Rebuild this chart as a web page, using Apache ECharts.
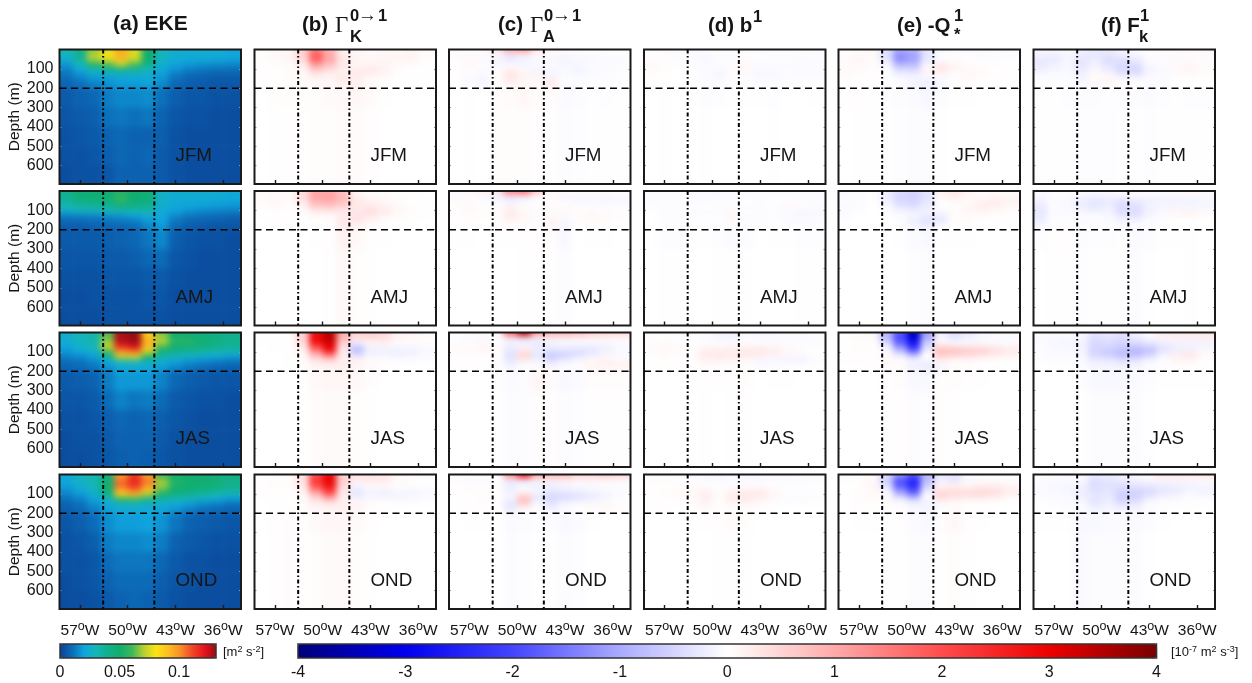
<!DOCTYPE html>
<html><head><meta charset="utf-8"><title>EKE budget sections</title>
<script src="https://cdn.jsdelivr.net/npm/echarts@6/dist/echarts.min.js"></script>
<style>
html,body{margin:0;padding:0;background:#fff;width:1252px;height:683px;overflow:hidden}
.layer{position:absolute;left:0;top:0;width:1252px;height:683px}
.heat{filter:blur(3px)}
</style></head><body>
<div id="host"></div><div id="over" class="layer"></div>
<script>
const seasons=['JFM','AMJ','JAS','OND'];
const lonTicks=[-57,-50,-43,-36];
const depthTicks=[100,200,300,400,500,600];
const refLons=[-53.6,-46.1];
const refDepth=200;
const lonEdges=[-61,-58,-56,-54,-52,-50,-48,-46,-44,-42,-40,-38,-36,-32.5];
const ekeDepthEdges=[-30,30,60,90,115,140,170,200,300,400,500,600,730];
const budgetDepthEdges=[-30,18,38,70,100,125,150,175,200,300,730];
const ekeTicks=[0,0.05,0.1];
const budgetTicks=[-4,-3,-2,-1,0,1,2,3,4];

// EKE, in 10^-3 m2 s-2
const ekeJFM=[[30,40,68,78,95,75,50,30,25,24,24,24,22],[25,38,72,80,92,76,50,28,23,22,22,22,20],[18,30,55,62,72,62,42,25,20,18,17,16,15],[14,22,32,38,42,38,30,22,17,14,12,11,11],[12,17,22,24,26,26,25,19,13,10,9,8,8],[10,13,17,18,20,20,22,17,11,8,7,6,6],[8,10,13,16,18,18,19,15,9,7,6,5,5],[6,8,9,13,15,15,16,11,7,5,5,4,4],[5,6,7,11,12,11,12,8,5,4,4,3,3],[4,5,6,8,9,8,8,7,4,3,3,3,3],[4,4,5,7,9,8,9,6,4,3,3,3,3],[3,4,4,5,8,8,8,6,4,3,3,3,3]];
const ekeAMJ=[[40,48,48,48,55,50,47,27,24,24,24,24,22],[38,45,46,47,58,48,45,26,23,23,23,22,21],[32,36,38,40,44,42,40,24,22,21,20,19,18],[25,27,28,30,32,33,32,22,20,17,15,14,13],[13,14,15,16,17,20,23,20,15,12,11,10,9],[9,9,10,11,12,13,18,20,12,9,8,7,6],[7,7,8,9,9,10,15,18,10,7,6,5,5],[6,6,6,7,8,9,12,15,7,5,4,4,3],[5,5,5,6,6,7,9,10,5,4,3,3,3],[4,4,4,5,5,5,6,6,4,3,3,3,3],[3,3,4,4,4,4,5,5,3,3,3,3,3],[3,3,3,4,4,4,4,4,3,3,3,3,3]];
const ekeJAS=[[25,30,33,62,128,133,88,66,50,48,45,43,40],[23,28,33,68,128,132,95,72,56,55,48,44,40],[20,26,30,72,115,122,90,60,48,47,44,40,38],[17,20,25,55,95,100,72,45,38,35,33,30,28],[13,15,19,35,70,72,50,33,28,25,22,20,18],[10,11,14,20,28,28,27,23,19,16,14,12,11],[8,9,11,16,22,22,21,18,14,11,9,8,7],[6,7,8,13,18,18,18,14,9,7,6,5,5],[5,5,6,10,14,12,13,10,6,5,4,4,3],[4,4,5,7,9,8,9,7,5,4,3,3,3],[3,4,4,6,8,8,8,6,4,3,3,3,3],[3,3,4,5,7,8,7,5,4,3,3,3,3]];
const ekeOND=[[22,28,32,45,100,115,100,62,52,50,48,46,42],[20,26,32,50,108,118,104,70,55,50,50,47,42],[17,22,28,50,100,108,92,64,50,48,46,43,38],[14,18,24,40,85,90,70,48,42,38,35,30,28],[11,14,20,28,55,58,42,36,32,28,25,22,18],[8,11,16,22,27,28,26,24,21,18,15,13,11],[7,9,13,19,22,23,22,20,17,13,10,9,8],[5,7,10,16,19,19,20,17,12,8,7,6,5],[4,5,7,13,15,15,16,13,8,6,5,4,4],[4,4,5,10,12,12,12,9,6,4,4,3,3],[3,4,5,8,10,10,10,7,5,4,3,3,3],[3,3,4,6,8,9,8,6,4,3,3,3,3]];

// Budget terms, in hundredths of 10^-7 m2 s-3
const gkJFM=[[3,8,10,50,150,90,20,10,5,8,10,12,5],[3,8,12,60,190,100,20,12,8,10,12,15,5],[3,6,10,45,175,105,30,12,10,12,12,12,3],[2,4,6,18,95,65,25,12,15,15,5,3,2],[2,2,3,10,50,28,15,25,30,15,3,1,1],[1,2,3,8,18,15,25,25,10,8,2,1,1],[1,2,3,6,10,12,25,15,6,3,1,1,0],[1,2,3,5,8,10,12,20,6,2,1,0,0],[0,3,4,4,4,6,8,10,6,1,0,0,0],[0,1,2,2,3,4,5,5,2,0,0,0,0]];
const gkAMJ=[[8,8,5,35,100,100,70,12,5,3,2,2,0],[5,10,6,45,110,115,85,20,10,6,4,3,0],[5,8,5,30,90,95,75,25,15,10,5,2,1],[3,5,3,10,50,55,45,25,30,20,10,4,1],[1,2,2,3,15,15,20,30,40,25,8,3,1],[1,1,1,2,3,5,25,35,20,8,3,2,1],[0,1,1,1,2,3,28,25,8,3,2,1,0],[0,0,0,1,1,2,22,12,3,2,1,0,0],[0,0,0,0,1,2,15,8,2,1,0,0,0],[0,0,0,0,0,1,8,4,1,0,0,0,0]];
const gkJAS=[[1,2,2,50,280,340,90,50,55,45,15,10,5],[1,2,2,60,300,350,90,40,50,40,15,10,5],[1,1,2,40,270,320,60,-20,10,15,5,3,2],[0,1,1,20,170,290,30,-80,-20,-15,-15,-15,-8],[0,0,1,10,90,180,20,-50,-15,-15,-20,-15,-8],[0,0,1,5,40,60,20,12,5,3,-5,-5,-3],[0,0,1,3,15,20,22,18,8,3,2,1,0],[0,0,1,2,12,15,18,12,5,1,1,0,0],[0,0,0,1,8,10,10,8,3,0,0,0,0],[0,0,0,1,5,6,6,4,1,0,0,0,0]];
const gkOND=[[2,3,4,30,200,290,50,30,30,25,8,5,3],[2,3,4,40,230,310,60,25,30,30,10,5,3],[2,3,3,30,210,280,50,-8,10,8,2,2,1],[1,2,2,15,130,230,30,-30,-12,-15,-8,-12,-8],[1,1,2,8,60,140,25,-25,-12,-15,-15,-12,-6],[0,1,1,5,25,50,15,8,3,2,-3,-4,-2],[0,1,2,3,14,18,20,15,5,2,1,0,0],[0,1,3,3,10,12,15,10,4,1,0,0,0],[0,2,4,2,7,9,10,6,2,0,0,0,0],[0,1,3,1,4,6,7,4,1,0,0,0,0]];
const gaJFM=[[3,5,8,30,90,110,30,10,5,5,5,4,4],[-8,5,-5,-10,-25,-8,5,3,-10,-8,-5,-5,-3],[0,10,-5,-12,-25,-15,-10,-10,-12,-10,-8,-5,-5],[3,8,-3,-6,5,-10,-5,-5,-10,-10,-5,-5,-3],[2,-3,-5,3,25,10,-15,-12,-8,-15,-8,-4,-3],[1,-5,-10,2,30,15,10,-10,-3,-5,-5,-3,-2],[1,-8,-12,3,25,10,8,25,-3,-5,-3,-2,-2],[1,-3,-8,3,10,10,8,20,-5,-5,-2,-2,-1],[0,1,0,3,5,10,5,3,-5,-3,-1,-2,-1],[0,1,0,3,3,4,2,1,-3,-2,-1,-1,-1]];
const gaAMJ=[[5,10,15,25,140,160,60,5,5,5,5,5,3],[-12,-5,-8,-25,-30,-15,5,-5,-12,-12,-12,-12,-8],[3,5,-3,-5,-15,-8,-3,3,-5,-10,-8,-10,-10],[3,8,2,5,15,5,3,5,5,3,-3,-3,-3],[3,5,3,5,25,10,-5,10,8,5,8,5,3],[2,3,3,5,20,12,-3,8,-5,5,8,5,3],[2,3,1,3,8,5,5,15,-10,3,5,3,2],[2,2,1,2,3,3,5,12,-12,2,3,2,1],[1,1,0,1,1,2,2,3,-8,0,1,1,0],[0,0,0,0,0,1,1,1,-4,0,0,0,0]];
const gaJAS=[[0,3,5,5,170,340,120,90,90,80,60,50,45],[-5,-10,-10,-3,-20,-15,-10,15,15,12,10,8,8],[3,3,8,5,-15,-20,-25,-15,-10,-8,-8,-8,-5],[5,5,12,3,-25,15,-20,-25,-25,-30,-30,-20,-10],[3,3,3,2,-35,55,-30,-65,-55,-45,-25,-10,-5],[2,2,2,2,-30,30,-20,-50,-30,-10,5,12,8],[1,2,1,1,-20,-5,-5,-15,-5,5,15,20,15],[1,1,1,1,-8,-3,5,15,-5,-5,8,10,8],[0,0,0,-1,-5,-3,12,5,-8,-5,3,3,3],[0,0,0,-1,-3,-3,3,2,-4,-2,1,1,1]];
const gaOND=[[2,4,5,5,130,280,110,80,80,50,50,60,50],[-3,-8,-10,2,-20,-15,-5,15,15,10,8,8,8],[2,3,3,3,-25,-15,-20,-20,-12,-8,-8,-5,-5],[2,3,4,3,-15,5,-8,-25,-20,-15,-10,-8,-5],[2,2,3,2,-10,60,-30,-50,-50,-40,-30,-15,-5],[1,2,3,2,-25,80,-15,-40,-20,-15,-8,-3,-2],[1,1,2,1,-30,30,-5,-25,-8,2,10,12,5],[1,1,1,1,-20,-3,-3,-10,-5,2,4,5,3],[0,1,1,0,-5,-3,-2,-2,-8,-5,-1,0,0],[0,0,0,0,-3,-2,-1,-1,-4,-2,0,0,0]];
const bJFM=[[-3,-3,-3,-5,-3,-3,-3,-3,-3,-3,-3,-2,-2],[2,-4,-6,-6,-8,-3,-4,-3,-3,-3,-3,-3,-4],[5,3,-3,-4,-10,-3,-3,5,3,-3,-3,-5,-5],[6,4,-2,2,-5,-5,5,8,-5,-5,-5,-6,-5],[5,3,0,2,-6,-10,3,8,-8,-8,-3,-5,-5],[3,2,0,2,-5,-12,3,-5,-10,-8,-3,-5,-5],[2,1,0,1,-3,-5,2,-3,-5,-5,-2,-2,-3],[1,1,0,1,-3,-4,-2,-2,-2,-4,-1,-1,-2],[0,-1,0,1,-3,-2,-1,-1,-1,-2,0,0,-1],[0,-1,0,0,-1,0,0,0,0,-1,0,0,0]];
const bAMJ=[[-4,-4,-4,-5,-6,-8,-6,-3,-3,-3,-3,-3,-3],[-3,-4,-4,-5,-5,-6,-5,-3,-3,-3,-3,-3,-3],[-3,-3,-3,-3,-4,-4,-3,-2,-3,-2,-2,-3,-4],[-2,-3,-3,-2,-2,-3,-3,-3,-2,3,10,5,-3],[0,-3,-3,-3,-3,-3,8,-2,-5,-3,-5,-12,-12],[0,-3,-4,-3,-2,-2,12,-3,-4,-2,-8,-8,-6],[0,-4,-4,-2,-2,-2,3,-3,-3,-2,-3,-3,-3],[0,-4,-3,-2,-2,-3,-3,-3,-3,-2,-2,-2,-2],[0,-3,-3,-1,-1,-2,-5,-3,0,-1,-1,-2,-2],[0,-1,-1,0,0,-1,-1,-1,0,0,0,-1,-1]];
const bJAS=[[-2,-2,-3,-4,-4,-12,-15,-6,-8,-8,-6,-5,-4],[-2,-2,-3,-4,-5,-12,-12,-5,-8,-8,-6,-5,-4],[3,5,3,2,-3,-4,-5,3,-3,-5,-4,-3,-3],[5,8,5,3,15,15,20,25,25,20,10,5,2],[3,6,3,2,25,30,25,30,25,15,8,3,1],[2,3,2,2,15,20,15,10,-8,-12,-15,-18,-5],[1,2,1,1,8,5,3,3,-8,-5,-5,-4,-2],[1,1,0,1,3,2,2,3,-3,-2,-1,-1,-1],[0,0,0,0,2,1,2,3,0,-1,-1,0,0],[0,0,0,0,1,0,1,1,0,0,0,0,0]];
const bOND=[[-3,-3,-4,-5,-8,-8,-5,-7,-7,-5,-5,-4,-4],[-2,-2,-3,-4,-7,-8,-6,-8,-8,-5,-5,-5,-4],[2,2,2,3,2,-2,-2,-2,-2,-2,-2,-2,-2],[2,3,6,8,15,5,15,20,22,10,3,2,2],[2,3,5,5,20,5,25,30,25,12,-3,-5,3],[2,2,2,3,18,3,18,20,10,3,-3,-3,3],[1,1,1,2,10,3,5,5,3,2,0,0,0],[1,1,0,1,3,2,3,3,2,0,0,0,0],[0,0,0,1,1,2,5,3,0,0,0,0,0],[0,0,0,0,0,1,1,1,0,0,0,0,0]];
const qJFM=[[3,6,8,-35,-100,-90,-30,-8,-3,-5,-6,-6,-4],[4,8,6,-40,-130,-110,-30,-5,-3,-5,-6,-4,-3],[6,10,5,-30,-125,-105,-30,-3,3,2,-3,-3,-2],[8,8,4,-5,-70,-70,5,30,15,5,3,2,1],[6,5,3,-2,-30,-35,15,25,8,8,5,3,2],[5,3,2,1,-12,-12,-8,-5,3,8,5,2,2],[2,2,1,0,-5,-12,-15,-8,3,5,2,1,1],[1,2,1,0,-4,-15,-20,-12,2,3,1,0,0],[1,2,1,-2,-3,-5,-10,-3,1,1,0,0,0],[0,1,1,-1,-2,-3,-3,-1,0,0,0,0,0]];
const qAMJ=[[-5,-3,0,-15,-40,-50,-30,15,25,12,5,5,5],[-3,-2,2,-25,-50,-55,-35,8,25,12,5,8,8],[-4,-3,1,-15,-45,-50,-30,3,5,5,15,22,15],[-6,-3,0,-5,-25,-35,-20,3,3,12,20,15,8],[-5,-2,0,2,-8,-10,-15,-8,5,8,8,5,3],[-3,0,0,1,-3,-15,-30,-30,3,5,3,2,1],[-1,0,0,0,-2,-20,-35,-20,3,3,1,1,1],[-1,0,0,0,-2,-10,-15,-5,2,2,1,0,0],[0,0,0,0,-1,-5,-8,-1,1,1,0,0,0],[0,0,0,0,0,-2,-3,0,0,0,0,0,0]];
const qJAS=[[3,5,8,-80,-180,-330,-110,-15,-35,-25,-10,-5,-5],[2,5,6,-90,-200,-320,-100,-10,-35,-20,-12,-8,-8],[1,3,3,-40,-170,-270,-60,10,-5,-5,-5,-5,-3],[2,3,2,-8,-100,-200,-30,70,65,55,50,35,25],[2,2,2,5,-30,-100,0,70,65,55,45,30,20],[1,2,2,8,5,-12,-5,25,10,8,4,3,2],[1,1,1,5,5,-18,-25,-5,5,3,2,1,1],[0,0,1,3,4,-15,-22,-15,5,3,1,1,0],[0,0,0,2,3,-8,-8,3,3,2,1,0,0],[0,0,0,1,2,-3,-2,3,1,0,0,0,0]];
const qOND=[[-3,2,5,-40,-120,-180,-80,-20,-30,-5,-3,-2,-2],[-3,3,8,-60,-190,-250,-90,-25,-35,-8,-3,-3,-3],[0,3,10,-40,-180,-240,-60,10,15,10,15,15,10],[0,3,8,-10,-120,-190,-25,40,38,38,45,40,25],[0,3,6,5,-50,-110,0,50,40,35,35,25,10],[0,3,4,8,-8,-25,-15,15,8,3,3,2,1],[0,2,2,3,3,-12,-15,-5,3,2,1,1,0],[0,1,1,2,2,-8,-12,-3,6,2,1,0,0],[0,1,1,1,2,-5,-8,4,10,2,1,0,0],[0,0,0,1,1,-3,-3,2,3,1,0,0,0]];
const fJFM=[[-8,-10,-8,-15,-25,-25,-12,-5,3,5,5,5,8],[-15,-20,-12,-25,-30,-30,-20,-10,3,5,8,8,8],[-25,-25,-12,-30,-20,-40,-35,-25,-5,-3,-3,-3,-3],[-25,-15,-8,-30,-15,-30,-45,-40,-10,-5,8,12,5],[-15,-10,-8,-20,10,-20,-45,-50,-15,-8,8,12,5],[-5,-5,-5,-15,5,5,-15,-20,-5,-5,3,3,3],[-2,-3,-3,-10,10,15,5,3,-5,-5,0,0,0],[-1,-2,-2,-5,-5,5,3,3,-5,-3,0,0,0],[-1,-1,-2,-3,-3,-2,-2,-3,-5,-2,-1,-2,-2],[-1,-1,-1,-2,-2,-2,-1,-1,-2,-1,-1,-1,-1]];
const fAMJ=[[-5,3,5,3,-5,-5,5,5,-3,-3,5,8,8],[-10,-5,-5,-15,-15,-15,-10,-5,-10,-10,-8,-5,-5],[-15,-5,-8,-20,-30,-25,-35,-28,-18,-15,-15,-15,-12],[-25,-5,-8,-20,-28,-18,-40,-35,-15,-10,-10,-10,-10],[-30,-5,-5,-10,-10,-12,-42,-45,-15,-8,12,18,5],[-25,-3,-3,-5,-5,-8,-15,-25,-8,-2,3,3,2],[-15,-2,-3,-5,-3,-5,-12,-10,-3,-2,1,1,0],[-8,-2,-2,-3,-3,-3,-5,-5,-3,0,0,0,0],[-2,2,2,-3,-2,-2,-1,-5,-3,-1,-1,-1,0],[0,2,1,-2,-1,-1,-1,-3,-1,0,0,1,0]];
const fJAS=[[-3,-5,-5,-8,-30,-25,-35,-15,5,25,25,25,30],[-5,-8,-10,-10,-40,-35,-40,-25,-5,10,15,15,15],[-5,-8,-10,-15,-45,-40,-50,-40,-30,-20,-15,-15,-15],[-3,-8,-8,-15,-50,-55,-65,-80,-70,-35,-20,-15,-8],[-2,-5,-5,-10,-50,-65,-85,-85,-60,-15,20,30,8],[-2,-3,-3,-10,-25,-30,-40,-35,-15,-3,15,15,3],[-1,-1,-2,-5,-15,-15,-20,-15,-5,-2,3,3,1],[0,-1,-1,-3,-10,-12,-12,-10,-3,-1,1,1,1],[0,0,0,-2,-8,-8,-8,-5,-2,-1,1,1,1],[0,0,0,-1,-4,-4,-4,-3,-1,0,0,0,0]];
const fOND=[[-2,-3,-3,-5,-25,-20,-15,-5,10,25,25,20,25],[-3,-5,-5,-8,-35,-30,-20,-15,5,10,10,8,8],[-5,-8,-10,-15,-40,-35,-35,-30,-25,-20,-18,-15,-10],[-5,-8,-10,-20,-35,-30,-50,-50,-45,-30,-25,-12,-15],[-3,-5,-8,-20,-25,-30,-55,-55,-30,-15,-10,-5,-8],[-2,-3,-5,-10,-35,-20,-50,-35,-8,-3,5,3,2],[-1,-2,-3,-5,-20,-15,-25,-20,-5,-2,-2,2,0],[-1,-1,-2,-4,-12,-10,-10,-10,-4,-2,0,0,0],[-1,-1,-1,-8,-8,-5,-5,-5,-3,-1,0,0,0],[0,0,0,-7,-4,-3,-3,-3,-1,0,0,0,0]];

const panels=[[ekeJFM,ekeAMJ,ekeJAS,ekeOND],[gkJFM,gkAMJ,gkJAS,gkOND],[gaJFM,gaAMJ,gaJAS,gaOND],[bJFM,bAMJ,bJAS,bOND],[qJFM,qAMJ,qJAS,qOND],[fJFM,fAMJ,fJAS,fOND]];

const ekeColors=['#0b4196','#0c6bb8','#0fa5de','#14b6b8','#12b08c','#10ae6c','#3db85c','#b8d030','#fce414','#fcc020','#f89028','#f04828','#e8141e','#9a0c14'];
const budgetColors=['#00007a','#0000ee','#4444ff','#aaaaff','#ffffff','#ffaaaa','#ff4c4c','#ee0000','#7a0000'];

const colLeft=[59.5,254.5,449,644,838.5,1033.5], rowTop=[49.5,191,332.5,474.5], W=181.5, H=134.5;
const LON0=-60, LON1=-33.4, D1=695;
const FONT='"Liberation Sans",Helvetica,Arial,sans-serif', INK='#151515';

function eachPanel(fn){let k=0;colLeft.forEach((x,c)=>rowTop.forEach((y,r)=>fn(x,y,c,r,k++)));}

// heat layers, one per season row, so that no row's colour reaches the next row
const host=document.getElementById('host');
rowTop.forEach((y,r)=>{
  const el=document.createElement('div');
  el.className='layer heat';
  el.style.clipPath="path('"+colLeft.map(x=>`M${x} ${y}h${W}v${H}h${-W}z`).join(' ')+"')";
  host.appendChild(el);
  const hGrid=[],hX=[],hY=[],hSeries=[];
  colLeft.forEach((x,c)=>{
    hGrid.push({left:x,top:y,width:W,height:H});
    hX.push({type:'value',gridIndex:c,min:LON0,max:LON1,show:false});
    hY.push({type:'value',gridIndex:c,min:0,max:D1,inverse:true,show:false});
    const edges=c===0?ekeDepthEdges:budgetDepthEdges, data=[];
    panels[c][r].forEach((row,i)=>row.forEach((v,j)=>data.push([lonEdges[j],lonEdges[j+1],edges[i],edges[i+1],v])));
    hSeries.push({type:'custom',xAxisIndex:c,yAxisIndex:c,data,encode:{x:[0,1],y:[2,3]},silent:true,animation:false,
      renderItem(p,api){
        const a=api.coord([api.value(0),api.value(2)]),b=api.coord([api.value(1),api.value(3)]);
        return {type:'rect',shape:{x:a[0],y:a[1],width:b[0]-a[0]+.6,height:b[1]-a[1]+.6},style:{fill:api.visual('color')}};
      }});
  });
  echarts.init(el,null,{renderer:'canvas'}).setOption({animation:false,backgroundColor:'#fff',grid:hGrid,xAxis:hX,yAxis:hY,series:hSeries,
    visualMap:[
      {type:'continuous',show:false,min:0,max:131,dimension:4,seriesIndex:[0],inRange:{color:ekeColors}},
      {type:'continuous',show:false,min:-400,max:400,dimension:4,seriesIndex:[1,2,3,4,5],inRange:{color:budgetColors}}
    ]});
});

// axes, frames, reference lines, labels
const lonRich={s:{fontSize:12.5,fontFamily:FONT,color:INK,verticalAlign:'bottom',padding:[0,0,8,0]}};
const grids=[],xs=[],ys=[],lines=[],rightAxes=[];
eachPanel((x,y,c,r,k)=>{
  grids.push({left:x,top:y,width:W,height:H,show:true,borderColor:'#1a1a1a',borderWidth:2,backgroundColor:'transparent',z:6});
  xs.push({type:'value',gridIndex:k,min:LON0,max:LON1,position:'bottom',splitLine:{show:false},axisLine:{show:false,onZero:false},
    axisTick:{show:true,inside:true,length:4,customValues:lonTicks,lineStyle:{color:'#1a1a1a',width:1.4}},
    axisLabel:{show:r===3,customValues:lonTicks,margin:11,fontSize:15.5,fontFamily:FONT,color:INK,
      formatter:v=>Math.abs(v)+'{s|o}W',rich:lonRich}});
  ys.push({type:'value',gridIndex:k,min:0,max:D1,inverse:true,position:'left',splitLine:{show:false},axisLine:{show:false,onZero:false},
    axisTick:{show:true,inside:true,length:2,customValues:depthTicks,lineStyle:{color:'#999',width:1}},
    axisLabel:{show:c===0,customValues:depthTicks,margin:6,fontSize:16,fontFamily:FONT,color:INK},
    name:c===0?'Depth (m)':'',nameLocation:'middle',nameGap:34,nameTextStyle:{fontSize:15.5,fontFamily:FONT,color:INK}});
  rightAxes.push({type:'value',gridIndex:k,min:0,max:D1,inverse:true,position:'right',splitLine:{show:false},axisLine:{show:false,onZero:false},
    axisTick:{show:true,inside:true,length:2,customValues:depthTicks,lineStyle:{color:'#999',width:1}},axisLabel:{show:false}});
  refLons.forEach(l=>lines.push({type:'line',xAxisIndex:k,yAxisIndex:k,data:[[l,0],[l,D1]],symbol:'none',silent:true,z:8,
    lineStyle:{color:'#000',width:2,type:[4,2.5,1.5,2.5]}}));
  lines.push({type:'line',xAxisIndex:k,yAxisIndex:k,data:[[LON0,refDepth],[LON1,refDepth]],symbol:'none',silent:true,z:8,
    lineStyle:{color:'#000',width:1.4,type:[7,4.5]}});
});
// colour bars
let n=grids.length;
grids.push({left:60,top:644,width:156,height:14,show:true,borderColor:'#333',borderWidth:1.5,backgroundColor:'transparent',z:6});
xs.push({type:'value',gridIndex:n,min:0,max:0.131,position:'bottom',splitLine:{show:false},axisLine:{show:false,onZero:false},
  axisTick:{show:true,inside:true,length:2,customValues:ekeTicks,lineStyle:{color:'#222'}},
  axisLabel:{customValues:ekeTicks,margin:7,fontSize:16,fontFamily:FONT,color:INK,formatter:v=>String(v)}});
ys.push({type:'value',gridIndex:n,show:false,min:0,max:1});
n++;
grids.push({left:298,top:644,width:858.5,height:14,show:true,borderColor:'#333',borderWidth:1.5,backgroundColor:'transparent',z:6});
xs.push({type:'value',gridIndex:n,min:-4,max:4,position:'bottom',splitLine:{show:false},axisLine:{show:false,onZero:false},
  axisTick:{show:true,inside:true,length:9,customValues:budgetTicks,lineStyle:{color:'#222',width:1.2}},
  axisLabel:{customValues:budgetTicks,margin:7,fontSize:16,fontFamily:FONT,color:INK,formatter:v=>String(v)}});
ys.push({type:'value',gridIndex:n,show:false,min:0,max:1});

// text
const txt=(text,x,y,size,o={})=>({type:'text',x,y,silent:true,z:20,style:Object.assign({text,fill:INK,fontSize:size,fontWeight:o.w||'bold',fontFamily:o.f||FONT,textAlign:o.a||'left',textVerticalAlign:'middle'},o.s||{})});
const gfx=[];
const SUP=16.5, SER='"Liberation Serif",serif';
gfx.push(txt('(a) EKE',113,24,21));
gfx.push(txt('(b)',302,25,20.5),txt('Γ',335,26,23,{w:'normal',f:SER}),txt('0',350,16.5,SUP),txt('→',358,16,19,{w:'normal'}),txt('1',378,16.5,SUP),txt('K',350,37,SUP));
gfx.push(txt('(c)',498,25,20.5),txt('Γ',530,26,23,{w:'normal',f:SER}),txt('0',544,16.5,SUP),txt('→',552,16,19,{w:'normal'}),txt('1',572,16.5,SUP),txt('A',543,37,SUP));
gfx.push(txt('(d) b',708,26,20.5),txt('1',753,17,SUP));
gfx.push(txt('(e) -Q',897,26,20.5),txt('1',954,16,SUP),txt('*',954,35,SUP));
gfx.push(txt('(f) F',1101,26,20.5),txt('1',1140,16,SUP),txt('k',1139,37,SUP));
eachPanel((x,y,c,r)=>gfx.push(txt(seasons[r],x+116,y+106.5,18.8,{w:'normal'})));
const unitRich={s:{fontSize:9,fontFamily:FONT,color:INK,verticalAlign:'bottom',padding:[0,0,5,0]}};
const unit=(t,x)=>({type:'text',x,y:652,silent:true,z:20,style:{text:t,fill:INK,fontSize:13,fontFamily:FONT,textVerticalAlign:'middle',rich:unitRich}});
gfx.push(unit('[m{s|2} s{s|-2}]',223),unit('[10{s|-7} m{s|2} s{s|-3}]',1171));

const over=echarts.init(document.getElementById('over'),null,{renderer:'canvas'});
over.setOption({animation:false,backgroundColor:'transparent',grid:grids,xAxis:xs,yAxis:ys.concat(rightAxes),series:lines,graphic:{elements:gfx},
  visualMap:[
    {type:'continuous',seriesIndex:[],min:0,max:131,left:60,top:644,orient:'horizontal',itemWidth:14,itemHeight:156,padding:0,text:null,calculable:false,hoverLink:false,inRange:{color:ekeColors},z:1},
    {type:'continuous',seriesIndex:[],min:-400,max:400,left:298,top:644,orient:'horizontal',itemWidth:14,itemHeight:858.5,padding:0,text:null,calculable:false,hoverLink:false,inRange:{color:budgetColors},z:1}
  ]});
</script></body></html>
